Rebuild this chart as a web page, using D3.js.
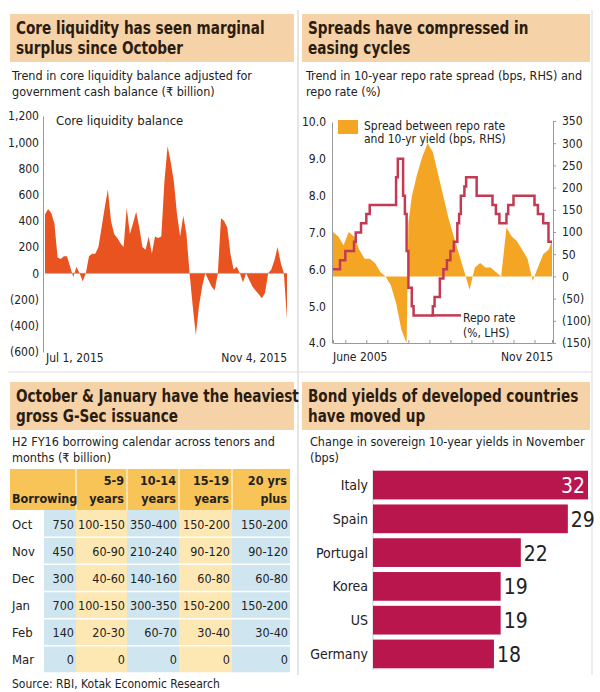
<!DOCTYPE html>
<html>
<head>
<meta charset="UTF-8">
<script src="https://d3js.org/d3.v7.min.js"></script>
<style>
  body { margin: 0; background: #fff; }
  svg text { font-family: "DejaVu Sans Condensed", "Liberation Sans Narrow", sans-serif; fill: #222; }
</style>
</head>
<body>
<script>
// --- panel 1: core liquidity (₹ bn), roughly every 1.5 days Jul 1 -> Nov 4 2015
const liquidity = [450,490,460,380,120,110,130,130,50,-30,50,0,-60,0,130,150,150,200,350,500,640,400,300,270,230,200,500,300,380,470,350,200,180,280,150,280,270,280,700,970,850,700,450,280,440,300,0,-250,-470,-250,-100,0,-50,-100,-130,0,420,400,350,150,30,50,0,-70,0,-50,-100,-130,-160,-190,-150,0,30,100,200,80,0,-350];
const liqTicks = [1200,1000,800,600,400,200,0,-200,-400,-600];

// --- panel 2: repo rate steps and spread (quarterly)
const repoDates = ["2005-06","2005-10","2006-01","2006-06","2006-07","2006-10","2007-01","2007-03","2008-06","2008-07","2008-10","2008-11","2008-12","2009-01","2009-03","2009-04","2010-03","2010-04","2010-07","2010-09","2010-11","2011-01","2011-03","2011-05","2011-06","2011-07","2011-09","2011-10","2012-04","2013-01","2013-03","2013-05","2013-09","2013-10","2014-01","2015-01","2015-03","2015-06","2015-09","2015-11"];
const repoRates = [6.0,6.25,6.5,6.75,7.0,7.25,7.5,7.75,8.5,9.0,8.0,7.5,6.5,5.5,5.0,4.75,5.0,5.25,5.75,6.0,6.25,6.5,6.75,7.25,7.5,8.0,8.25,8.5,8.0,7.75,7.5,7.25,7.5,7.75,8.0,7.75,7.5,7.25,6.75,6.75];
const spreadDates = ["2005-06","2005-09","2005-12","2006-03","2006-06","2006-09","2006-12","2007-03","2007-06","2007-09","2007-12","2008-03","2008-06","2008-09","2008-12","2009-01","2009-03","2009-06","2009-09","2009-12","2010-03","2010-06","2010-09","2010-12","2011-03","2011-06","2011-09","2011-12","2012-03","2012-06","2012-09","2012-12","2013-03","2013-06","2013-09","2013-12","2014-03","2014-06","2014-09","2014-12","2015-03","2015-06","2015-09","2015-11"];
const spreadBps = [100,90,70,100,90,60,40,40,30,10,0,-20,-60,-120,-150,120,180,230,270,300,280,230,180,130,90,50,10,-30,20,30,20,20,10,0,110,90,80,60,40,-10,20,50,60,80];
const rateTicks = [4,5,6,7,8,9,10];
const bpsTicks = [350,300,250,200,150,100,50,0,-50,-100,-150];

// --- panel 3: borrowing calendar
const months = ["Oct","Nov","Dec","Jan","Feb","Mar"];
const borrowing = ["750","450","300","700","140","0"];
const tenor59 = ["100-150","60-90","40-60","100-150","20-30","0"];
const tenor1014 = ["350-400","210-240","140-160","300-350","60-70","0"];
const tenor1519 = ["150-200","90-120","60-80","150-200","30-40","0"];
const tenor20 = ["150-200","90-120","60-80","150-200","30-40","0"];

// --- panel 4: bond yields
const countries = ["Italy","Spain","Portugal","Korea","US","Germany"];
const yieldChange = [32,29,22,19,19,18];

const svg = d3.select("body").append("svg").attr("width", 600).attr("height", 692);
svg.append("rect").attr("width", 600).attr("height", 692).attr("fill", "#fff");

const peach = "#f6d2a8";
function header(x, y, w, lines) {
  svg.append("rect").attr("x", x).attr("y", y).attr("width", w).attr("height", 48).attr("fill", peach);
  lines.forEach((t, i) => {
    const el = svg.append("text").attr("x", x + 6).attr("y", y + 20 + i * 20)
      .attr("font-size", 18).attr("font-weight", "bold").style("fill", "#2a1c10").text(t);
    // squeeze to the narrow look of the original headline font
    const len = el.node().getComputedTextLength();
    el.attr("textLength", len * 0.84).attr("lengthAdjust", "spacingAndGlyphs");
  });
}
function sub(x, y, lines) {
  lines.forEach((t, i) => svg.append("text").attr("x", x).attr("y", y + i * 16)
    .attr("font-size", 12.5).text(t));
}
// frame lines
svg.append("line").attr("x1", 298).attr("x2", 298).attr("y1", 10).attr("y2", 675).attr("stroke", "#ccc");
svg.append("line").attr("x1", 8).attr("x2", 592).attr("y1", 372).attr("y2", 372).attr("stroke", "#ddd");
svg.append("line").attr("x1", 592).attr("x2", 592).attr("y1", 10).attr("y2", 675).attr("stroke", "#ddd");

// ===== Panel 1
header(10, 14, 284, ["Core liquidity has seen marginal", "surplus since October"]);
sub(12, 80, ["Trend in core liquidity balance adjusted for", "government cash balance (\u20b9 billion)"]);
{
  const y = d3.scaleLinear().domain([-600, 1200]).range([352, 116]);
  const x = d3.scaleLinear().domain([0, liquidity.length - 1]).range([45, 287]);
  svg.append("path").datum(liquidity)
    .attr("d", d3.area().x((d, i) => x(i)).y0(y(0)).y1(d => y(d)))
    .attr("fill", "#e8531f");
  svg.append("line").attr("x1", 45).attr("x2", 287).attr("y1", y(0)).attr("y2", y(0)).attr("stroke", "#999").attr("stroke-width", 0.7);
  const ax = svg.append("g").attr("transform", "translate(43,0)")
    .call(d3.axisLeft(y).tickValues(liqTicks).tickSize(0).tickPadding(4)
      .tickFormat(d => d < 0 ? `(${d3.format(",")(-d)})` : d3.format(",")(d)));
  ax.select(".domain").attr("stroke", "#999");
  ax.selectAll("text").attr("font-size", 12).attr("fill", "#222");
  svg.append("text").attr("x", 56).attr("y", 125).attr("font-size", 13).text("Core liquidity balance");
  svg.append("text").attr("x", 46).attr("y", 362).attr("font-size", 12).text("Jul 1, 2015");
  svg.append("text").attr("x", 287).attr("y", 362).attr("font-size", 12).attr("text-anchor", "end").text("Nov 4, 2015");
}

// ===== Panel 2
header(302, 14, 288, ["Spreads have compressed in", "easing cycles"]);
sub(306, 80, ["Trend in 10-year repo rate spread (bps, RHS) and", "repo rate (%)"]);
{
  const parse = d3.timeParse("%Y-%m");
  const x = d3.scaleTime().domain([parse("2005-06"), parse("2015-11")]).range([333, 552]);
  const yL = d3.scaleLinear().domain([4, 10]).range([343, 122]);
  const yR = d3.scaleLinear().domain([-150, 350]).range([343, 121]);
  svg.append("path").datum(spreadDates.map((d, i) => [parse(d), spreadBps[i]]))
    .attr("d", d3.area().x(d => x(d[0])).y0(yR(0)).y1(d => yR(d[1])))
    .attr("fill", "#f5a524");
  svg.append("path").datum(repoDates.map((d, i) => [parse(d), repoRates[i]]))
    .attr("d", d3.line().x(d => x(d[0])).y(d => yL(d[1])).curve(d3.curveStepAfter))
    .attr("fill", "none").attr("stroke", "#c43a52").attr("stroke-width", 2.5);
  const axL = svg.append("g").attr("transform", "translate(332,0)")
    .call(d3.axisLeft(yL).tickValues(rateTicks).tickSize(0).tickPadding(6));
  axL.select(".domain").attr("stroke", "#999");
  axL.selectAll("text").attr("font-size", 12).attr("fill", "#222");
  const axR = svg.append("g").attr("transform", "translate(553,0)")
    .call(d3.axisRight(yR).tickValues(bpsTicks).tickSize(3).tickPadding(6)
      .tickFormat(d => d < 0 ? `(${-d})` : d));
  axR.select(".domain").attr("stroke", "#999");
  axR.selectAll("line").attr("stroke", "#999");
  axR.selectAll("text").attr("font-size", 12).attr("fill", "#222");
  const axB = svg.append("g").attr("transform", "translate(0,343)")
    .call(d3.axisBottom(x).ticks(d3.timeYear.every(1)).tickSize(-3).tickFormat(""));
  axB.select(".domain").attr("stroke", "#999");
  axB.selectAll("line").attr("stroke", "#999");
  svg.append("text").attr("x", 333).attr("y", 361).attr("font-size", 12).text("June 2005");
  svg.append("text").attr("x", 553).attr("y", 361).attr("font-size", 12).attr("text-anchor", "end").text("Nov 2015");
  svg.append("rect").attr("x", 338).attr("y", 120).attr("width", 20).attr("height", 14).attr("fill", "#f5a524");
  svg.append("text").attr("x", 364).attr("y", 130).attr("font-size", 12).text("Spread between repo rate");
  svg.append("text").attr("x", 364).attr("y", 143).attr("font-size", 12).text("and 10-yr yield (bps, RHS)");
  svg.append("line").attr("x1", x(parse("2010-02"))).attr("x2", 461).attr("y1", yL(4.75)).attr("y2", yL(4.75))
    .attr("stroke", "#c43a52").attr("stroke-width", 2.5);
  svg.append("text").attr("x", 463).attr("y", 322).attr("font-size", 12).text("Repo rate");
  svg.append("text").attr("x", 463).attr("y", 337).attr("font-size", 12).text("(%, LHS)");
}

// ===== Panel 3
header(10, 382, 284, ["October & January have the heaviest", "gross G-Sec issuance"]);
sub(12, 446, ["H2 FY16 borrowing calendar across tenors and", "months (\u20b9 billion)"]);
{
  const cols = [
    { x: 10, w: 34, fill: "#fff" },
    { x: 44, w: 32, fill: "#cfe6f1" },
    { x: 76, w: 51, fill: "#fde8b4" },
    { x: 127, w: 52, fill: "#cfe6f1" },
    { x: 179, w: 53, fill: "#fde8b4" },
    { x: 232, w: 58, fill: "#cfe6f1" }
  ];
  const rowY = d3.scaleBand().domain(months).range([510, 673]);
  svg.append("rect").attr("x", 10).attr("y", 469).attr("width", 280).attr("height", 41).attr("fill", "#f8c458");
  cols.slice(2).forEach(c => svg.append("line").attr("x1", c.x).attr("x2", c.x).attr("y1", 469).attr("y2", 510).attr("stroke", "#fff"));
  cols.forEach(c => svg.append("rect").attr("x", c.x).attr("y", 510).attr("width", c.w).attr("height", 163).attr("fill", c.fill));
  months.forEach(m => svg.append("line").attr("x1", 10).attr("x2", 290)
    .attr("y1", rowY(m) + rowY.bandwidth()).attr("y2", rowY(m) + rowY.bandwidth()).attr("stroke", "#fff").attr("stroke-width", 1.5));
  const heads = [["", "Borrowing"], ["5-9", "years"], ["10-14", "years"], ["15-19", "years"], ["20 yrs", "plus"]];
  svg.append("text").attr("x", 12).attr("y", 503).attr("font-size", 12.5).attr("font-weight", "bold").text("Borrowing");
  heads.slice(1).forEach((h, i) => {
    const c = cols[i + 2];
    h.forEach((t, j) => svg.append("text").attr("x", c.x + c.w - 3).attr("y", 485 + j * 18)
      .attr("text-anchor", "end").attr("font-size", 12.5).attr("font-weight", "bold").text(t));
  });
  const data = [borrowing, tenor59, tenor1014, tenor1519, tenor20];
  months.forEach((m, r) => {
    const yy = rowY(m) + rowY.bandwidth() / 2 + 5;
    svg.append("text").attr("x", 12).attr("y", yy).attr("font-size", 13).text(m);
    data.forEach((arr, k) => {
      const c = cols[k + 1];
      svg.append("text").attr("x", c.x + c.w - 2).attr("y", yy).attr("text-anchor", "end")
        .attr("font-size", 12.5).text(arr[r]);
    });
  });
  svg.append("text").attr("x", 12).attr("y", 688).attr("font-size", 12).text("Source: RBI, Kotak Economic Research");
}

// ===== Panel 4
header(302, 382, 288, ["Bond yields of developed countries", "have moved up"]);
sub(310, 446, ["Change in sovereign 10-year yields in November", "(bps)"]);
{
  const y = d3.scaleBand().domain(countries).range([469, 670]).paddingInner(0.15).paddingOuter(0.05);
  const x = d3.scaleLinear().domain([0, 32]).range([373, 588]);
  svg.append("line").attr("x1", 373).attr("x2", 373).attr("y1", 469).attr("y2", 670).attr("stroke", "#ccc");
  countries.forEach((c, i) => {
    svg.append("rect").attr("x", x(0)).attr("y", y(c)).attr("width", x(yieldChange[i]) - x(0))
      .attr("height", y.bandwidth()).attr("fill", "#b8164c");
    svg.append("text").attr("x", 368).attr("y", y(c) + y.bandwidth() / 2 + 5)
      .attr("text-anchor", "end").attr("font-size", 14).text(c);
    const inside = i === 0;
    svg.append("text").attr("x", inside ? x(yieldChange[i]) - 3 : x(yieldChange[i]) + 3)
      .attr("y", y(c) + y.bandwidth() / 2 + 8)
      .attr("text-anchor", inside ? "end" : "start").attr("font-size", 21)
      .style("fill", inside ? "#fff" : "#222").text(yieldChange[i]);
  });
}
</script>
</body>
</html>
